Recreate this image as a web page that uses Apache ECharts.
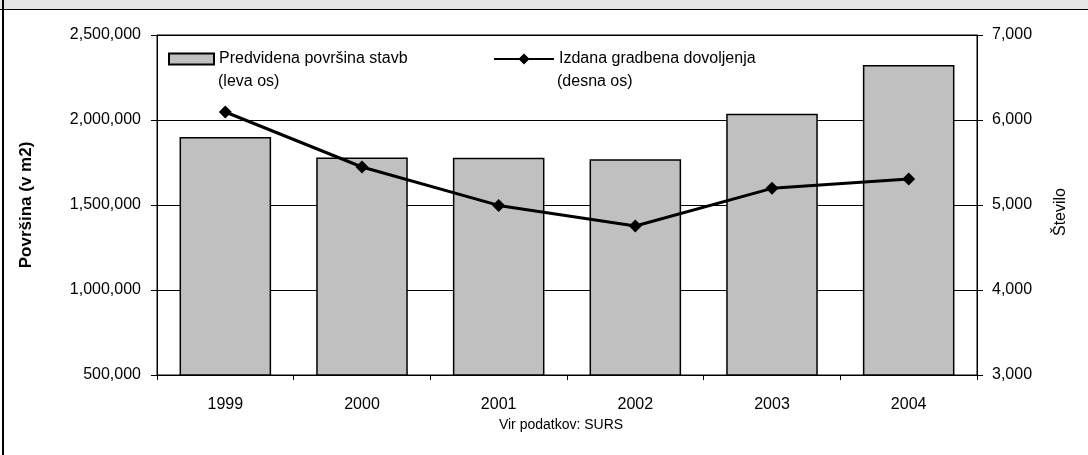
<!DOCTYPE html>
<html>
<head>
<meta charset="utf-8">
<script src="https://cdn.jsdelivr.net/npm/echarts@6/dist/echarts.min.js"></script>
<style>
  html, body { margin: 0; padding: 0; background: #fff; }
  #wrap { position: relative; width: 1088px; height: 455px; overflow: hidden; }
  #echart { position: absolute; left: 0; top: 0; width: 1088px; height: 455px; }
  .band { position: absolute; left: 0; top: 0; width: 1088px; height: 9px; background: #e6e6e6; border-bottom: 1px solid #000; }
  .edge { position: absolute; left: 2px; top: 0; width: 2px; height: 455px; background: #000; }
</style>
</head>
<body>
<div id="wrap">
  <div id="echart"></div>
  <div class="band"></div>
  <div class="edge"></div>
</div>
<script>
// podatki
var leta = ["1999", "2000", "2001", "2002", "2003", "2004"];
var povrsina = [1900000, 1779000, 1778000, 1769000, 2037000, 2323000];
var dovoljenja = [6094, 5447, 4995, 4753, 5196, 5306];
var imeStolpci = "Predvidena površina stavb";
var imeCrta = "Izdana gradbena dovoljenja";

var myChart = echarts.init(document.getElementById("echart"));

var fmt = function (v) {
  return v.toString().replace(/\B(?=(\d{3})+(?!\d))/g, ",");
};

var option = {
  animation: false,
  textStyle: { fontFamily: "Liberation Sans, Arial, sans-serif", color: "#000" },
  title: [
    {
      text: "Vir podatkov: SURS",
      left: 561,
      top: 418,
      padding: 0,
      textAlign: "center",
      textStyle: { fontSize: 14, fontWeight: "normal", color: "#000" }
    },
    // drugi vrstici legende
    {
      text: "(leva os)",
      left: 218,
      top: 74,
      padding: 0,
      textStyle: { fontSize: 16, fontWeight: "normal", color: "#000" }
    },
    {
      text: "(desna os)",
      left: 557,
      top: 74,
      padding: 0,
      textStyle: { fontSize: 16, fontWeight: "normal", color: "#000" }
    }
  ],
  legend: [
    {
      data: [{ name: imeStolpci, icon: "rect" }],
      left: 168,
      top: 51,
      padding: 0,
      itemWidth: 45,
      itemHeight: 11,
      itemGap: 0,
      textStyle: { fontSize: 16, color: "#000" }
    },
    {
      data: [imeCrta],
      left: 493,
      top: 51,
      padding: 0,
      itemWidth: 60,
      itemHeight: 14,
      itemGap: 0,
      textStyle: { fontSize: 16, color: "#000" }
    }
  ],
  grid: {
    left: 157,
    right: 111,
    top: 35,
    bottom: 80,
    show: true,
    borderColor: "#000",
    borderWidth: 1,
    backgroundColor: "#fff"
  },
  xAxis: {
    type: "category",
    data: leta,
    axisLine: { lineStyle: { color: "#000", width: 1 } },
    axisTick: { show: true, length: 5, lineStyle: { color: "#000" } },
    axisLabel: { fontSize: 16, color: "#000", margin: 22 }
  },
  yAxis: [
    {
      type: "value",
      min: 500000,
      max: 2500000,
      interval: 500000,
      name: "Površina (v m2)",
      nameLocation: "middle",
      nameGap: 122,
      nameRotate: 90,
      nameTextStyle: { fontSize: 17, fontWeight: "bold", color: "#000" },
      axisLine: { show: true, lineStyle: { color: "#000" } },
      axisTick: { show: true, length: 6, lineStyle: { color: "#000" } },
      axisLabel: { fontSize: 16, color: "#000", margin: 16, formatter: fmt },
      splitLine: { show: true, lineStyle: { color: "#000", width: 1 } }
    },
    {
      type: "value",
      min: 3000,
      max: 7000,
      interval: 1000,
      position: "right",
      name: "Število",
      nameLocation: "middle",
      nameGap: 76,
      nameRotate: 90,
      nameTextStyle: { fontSize: 16, color: "#000", padding: [0, 14, 0, 0] },
      axisLine: { show: true, lineStyle: { color: "#000" } },
      axisTick: { show: true, length: 6, lineStyle: { color: "#000" } },
      axisLabel: { fontSize: 16, color: "#000", margin: 15, formatter: fmt },
      splitLine: { show: false }
    }
  ],
  series: [
    {
      name: imeStolpci,
      type: "bar",
      yAxisIndex: 0,
      data: povrsina,
      barCategoryGap: "33%",
      itemStyle: { color: "#c0c0c0", borderColor: "#000", borderWidth: 1.5 }
    },
    {
      name: imeCrta,
      type: "line",
      yAxisIndex: 1,
      data: dovoljenja,
      symbol: "diamond",
      symbolSize: 13,
      lineStyle: { color: "#000", width: 3 },
      itemStyle: { color: "#000" }
    }
  ]
};
myChart.setOption(option);
</script>
</body>
</html>
